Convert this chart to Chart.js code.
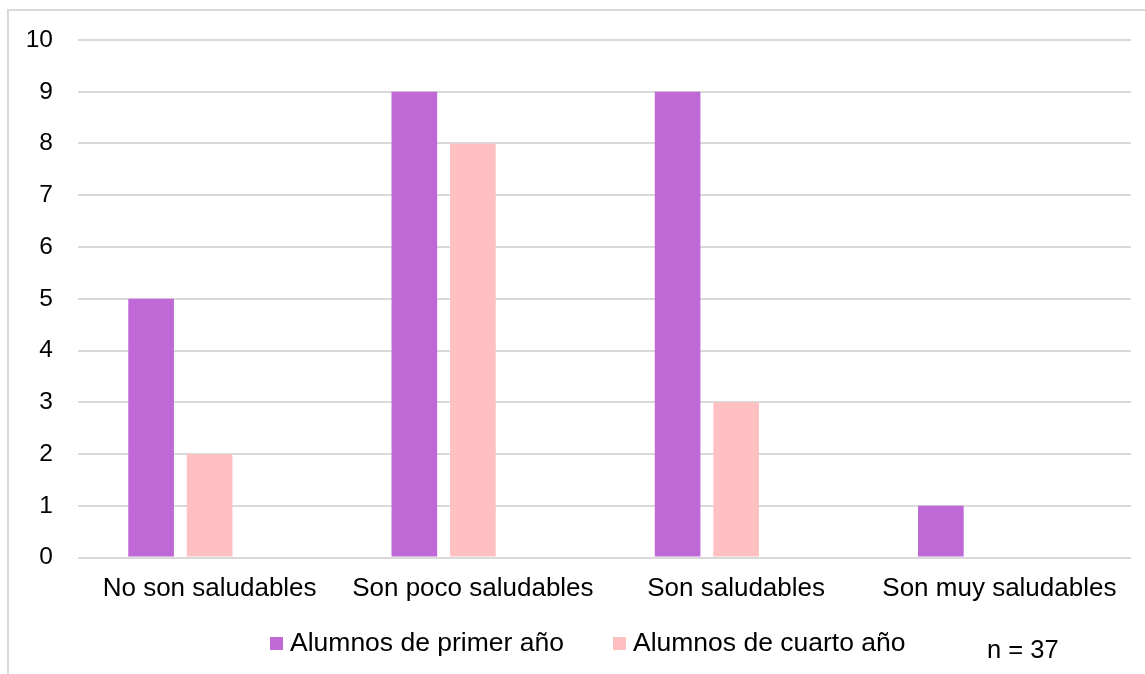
<!DOCTYPE html>
<html>
<head>
<meta charset="utf-8">
<script src="https://cdn.jsdelivr.net/npm/chart.js@4/dist/chart.umd.min.js"></script>
<style>
  html, body { margin: 0; padding: 0; background: #ffffff; }
  canvas { display: block; }
</style>
</head>
<body>
<canvas id="grafico" width="1145" height="674"></canvas>
<script>
// Datos de la encuesta
const categorias = ['No son saludables', 'Son poco saludables', 'Son saludables', 'Son muy saludables'];
const primerAnio = [5, 9, 9, 1];
const cuartoAnio = [2, 8, 3, 0];
const serieVacia = [null, null, null, null];   // tercera serie sin valores (reserva su hueco en cada grupo)
const nombresSeries = ['Alumnos de primer año', 'Alumnos de cuarto año'];
const notaMuestra = 'n = 37';
const ejeY = { min: 0, max: 10, paso: 1 };

const colores = ['#BE69D5', '#FFC0C1'];
const FUENTE = '"Liberation Sans", Arial, sans-serif';
const GRIS = '#d9d9d9';

// Marco gris (solo bordes superior e izquierdo) y fondo blanco
const marco = {
  id: 'marco',
  beforeDraw(chart) {
    const ctx = chart.ctx;
    ctx.save();
    ctx.fillStyle = '#ffffff';
    ctx.fillRect(0, 0, chart.width, chart.height);
    ctx.strokeStyle = GRIS;
    ctx.lineWidth = 2;
    ctx.beginPath();
    ctx.moveTo(8, chart.height);
    ctx.lineTo(8, 10);
    ctx.lineTo(chart.width, 10);
    ctx.stroke();
    ctx.restore();
  }
};

// Leyenda inferior y nota con el tamaño de la muestra
const leyenda = {
  id: 'leyenda',
  afterDraw(chart) {
    const ctx = chart.ctx;
    ctx.save();
    ctx.font = '26.5px ' + FUENTE;
    ctx.textBaseline = 'alphabetic';
    ctx.textAlign = 'left';
    let x = 270;
    const base = 651;
    chart.data.datasets.slice(0, nombresSeries.length).forEach((ds) => {
      ctx.fillStyle = ds.backgroundColor;
      ctx.fillRect(x, 637, 13, 13);
      x += 20;
      ctx.fillStyle = '#000000';
      ctx.fillText(ds.label, x, base);
      x += ctx.measureText(ds.label).width + 49;
    });
    ctx.font = '25.5px ' + FUENTE;
    ctx.fillText(notaMuestra, 987, 658);
    ctx.restore();
  }
};

new Chart(document.getElementById('grafico'), {
  type: 'bar',
  data: {
    labels: categorias,
    datasets: [
      { label: nombresSeries[0], data: primerAnio, backgroundColor: colores[0] },
      { label: nombresSeries[1], data: cuartoAnio, backgroundColor: colores[1] },
      { label: '', data: serieVacia, backgroundColor: 'rgba(0,0,0,0)' }
    ]
  },
  options: {
    responsive: false,
    animation: false,
    devicePixelRatio: 1,
    layout: { padding: { top: 40, right: 14, bottom: 0, left: 0 } },
    datasets: {
      bar: { categoryPercentage: 0.667, barPercentage: 0.78 }
    },
    plugins: {
      legend: { display: false },
      tooltip: { enabled: false }
    },
    scales: {
      x: {
        grid: { display: false, drawTicks: false },
        border: { display: false },
        ticks: {
          color: '#000000',
          font: { family: FUENTE, size: 26 },
          padding: 16,
          maxRotation: 0,
          autoSkip: false
        },
        afterFit(scale) { scale.height = 116.5; }
      },
      y: {
        min: ejeY.min,
        max: ejeY.max,
        grid: { color: GRIS, lineWidth: 2, drawTicks: false },
        border: { display: false },
        ticks: {
          stepSize: ejeY.paso,
          color: '#000000',
          font: { family: FUENTE, size: 24.5 },
          padding: 25
        },
        afterFit(scale) { scale.width = 78; }
      }
    }
  },
  plugins: [marco, leyenda]
});
</script>
</body>
</html>
